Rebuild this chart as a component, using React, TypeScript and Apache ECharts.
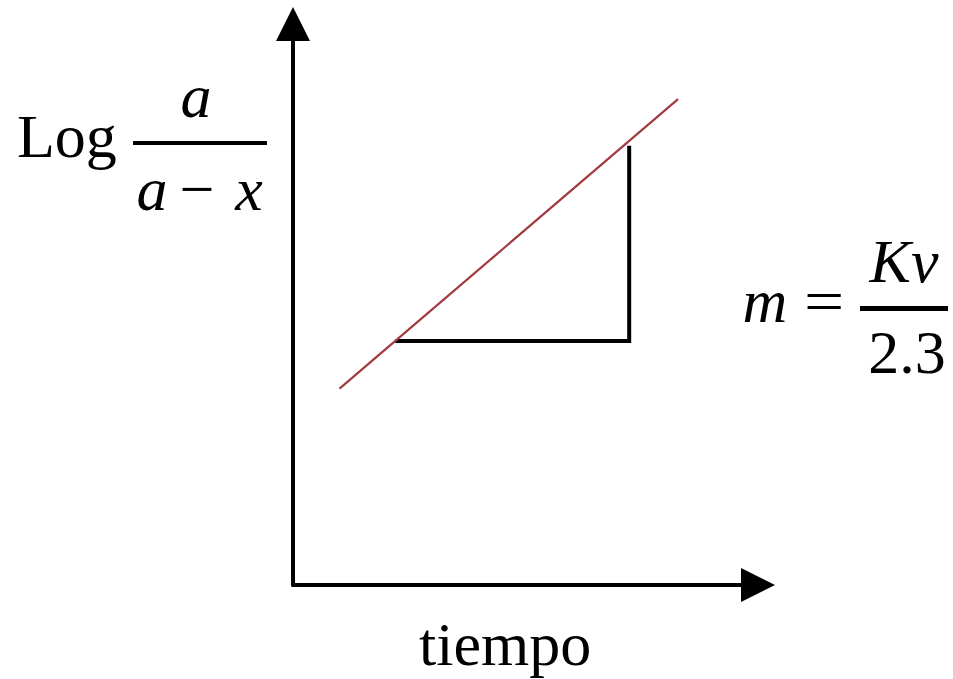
import React, { useEffect, useRef } from "react";
import * as echarts from "echarts";

// First-order kinetics plot: Log a/(a−x) against time, with slope triangle.
const xRange = [0, 10];
const yRange = [0, 10];

// Fitted straight line (time, Log a/(a−x))
const fitTime = [1.0, 8.28];
const fitLog = [3.5, 8.66];

// Slope triangle under the line
const slopeTime = [2.2, 7.23, 7.23];
const slopeLog = [4.35, 4.35, 7.83];

const axisTitle = "tiempo";

const SERIF = "'Liberation Serif', 'Times New Roman', serif";
const FS = 62;

export default function App() {
  const ref = useRef<HTMLDivElement>(null);

  useEffect(() => {
    if (!ref.current) return;
    const chart = echarts.init(ref.current, null, { renderer: "svg" });

    const fitData = fitTime.map((t, i) => [t, fitLog[i]]);
    const slopeData = slopeTime.map((t, i) => [t, slopeLog[i]]);

    const axisLine = {
      show: true,
      symbol: ["none", "triangle"],
      symbolSize: [34, 34],
      lineStyle: { color: "#000", width: 4 },
    };

    // baseline-positioned text (middle alignment sits ~0.34em above baseline)
    const txt = (
      text: string,
      x: number,
      baseline: number,
      align: "left" | "center" | "right",
      italic = false,
      extra: Record<string, unknown> = {}
    ) => ({
      type: "text",
      x,
      y: baseline - Math.round(FS * 0.34) - 3,
      ...extra,
      style: {
        text,
        fill: "#000",
        font: `${italic ? "italic " : ""}${FS}px ${SERIF}`,
        align,
        verticalAlign: "middle",
      },
    });

    chart.setOption({
      animation: false,
      backgroundColor: "#fff",
      grid: { left: 293, right: 195, top: 24, bottom: 94 },
      xAxis: {
        type: "value",
        min: xRange[0],
        max: xRange[1],
        axisLine,
        axisTick: { show: false },
        axisLabel: { show: false },
        splitLine: { show: false },
      },
      yAxis: {
        type: "value",
        min: yRange[0],
        max: yRange[1],
        axisLine,
        axisTick: { show: false },
        axisLabel: { show: false },
        splitLine: { show: false },
      },
      series: [
        {
          type: "line",
          data: slopeData,
          symbol: "none",
          lineStyle: { color: "#000", width: 4, join: "miter", cap: "butt" },
          z: 2,
        },
        {
          type: "line",
          data: fitData,
          symbol: "none",
          lineStyle: { color: "#a33a42", width: 2.2 },
          z: 3,
        },
      ],
      graphic: [
        // y-axis label: Log a/(a−x)
        txt("Log", 17, 160, "left"),
        txt("a", 196, 120, "center", true),
        { type: "rect", shape: { x: 133, y: 141, width: 134, height: 4 }, style: { fill: "#000" } },
        txt("a", 152, 213, "center", true),
        txt("\u2212", 197, 213, "center"),
        txt("x", 249, 213, "center", true),
        // slope: m = Kv/2.3
        txt("m", 765, 325, "center", true),
        txt("=", 824, 325, "center", false, { scaleX: 1.15, originX: 0 }),
        txt("Kv", 904, 285, "center", true),
        { type: "rect", shape: { x: 860, y: 306, width: 88, height: 5 }, style: { fill: "#000" } },
        txt("2.3", 907, 376, "center"),
        // x-axis label
        txt(axisTitle, 419, 668, "left"),
      ],
    });

    return () => chart.dispose();
  }, []);

  return (
    <div
      ref={ref}
      style={{ position: "absolute", left: 0, top: 0, width: 953, height: 679 }}
    />
  );
}
